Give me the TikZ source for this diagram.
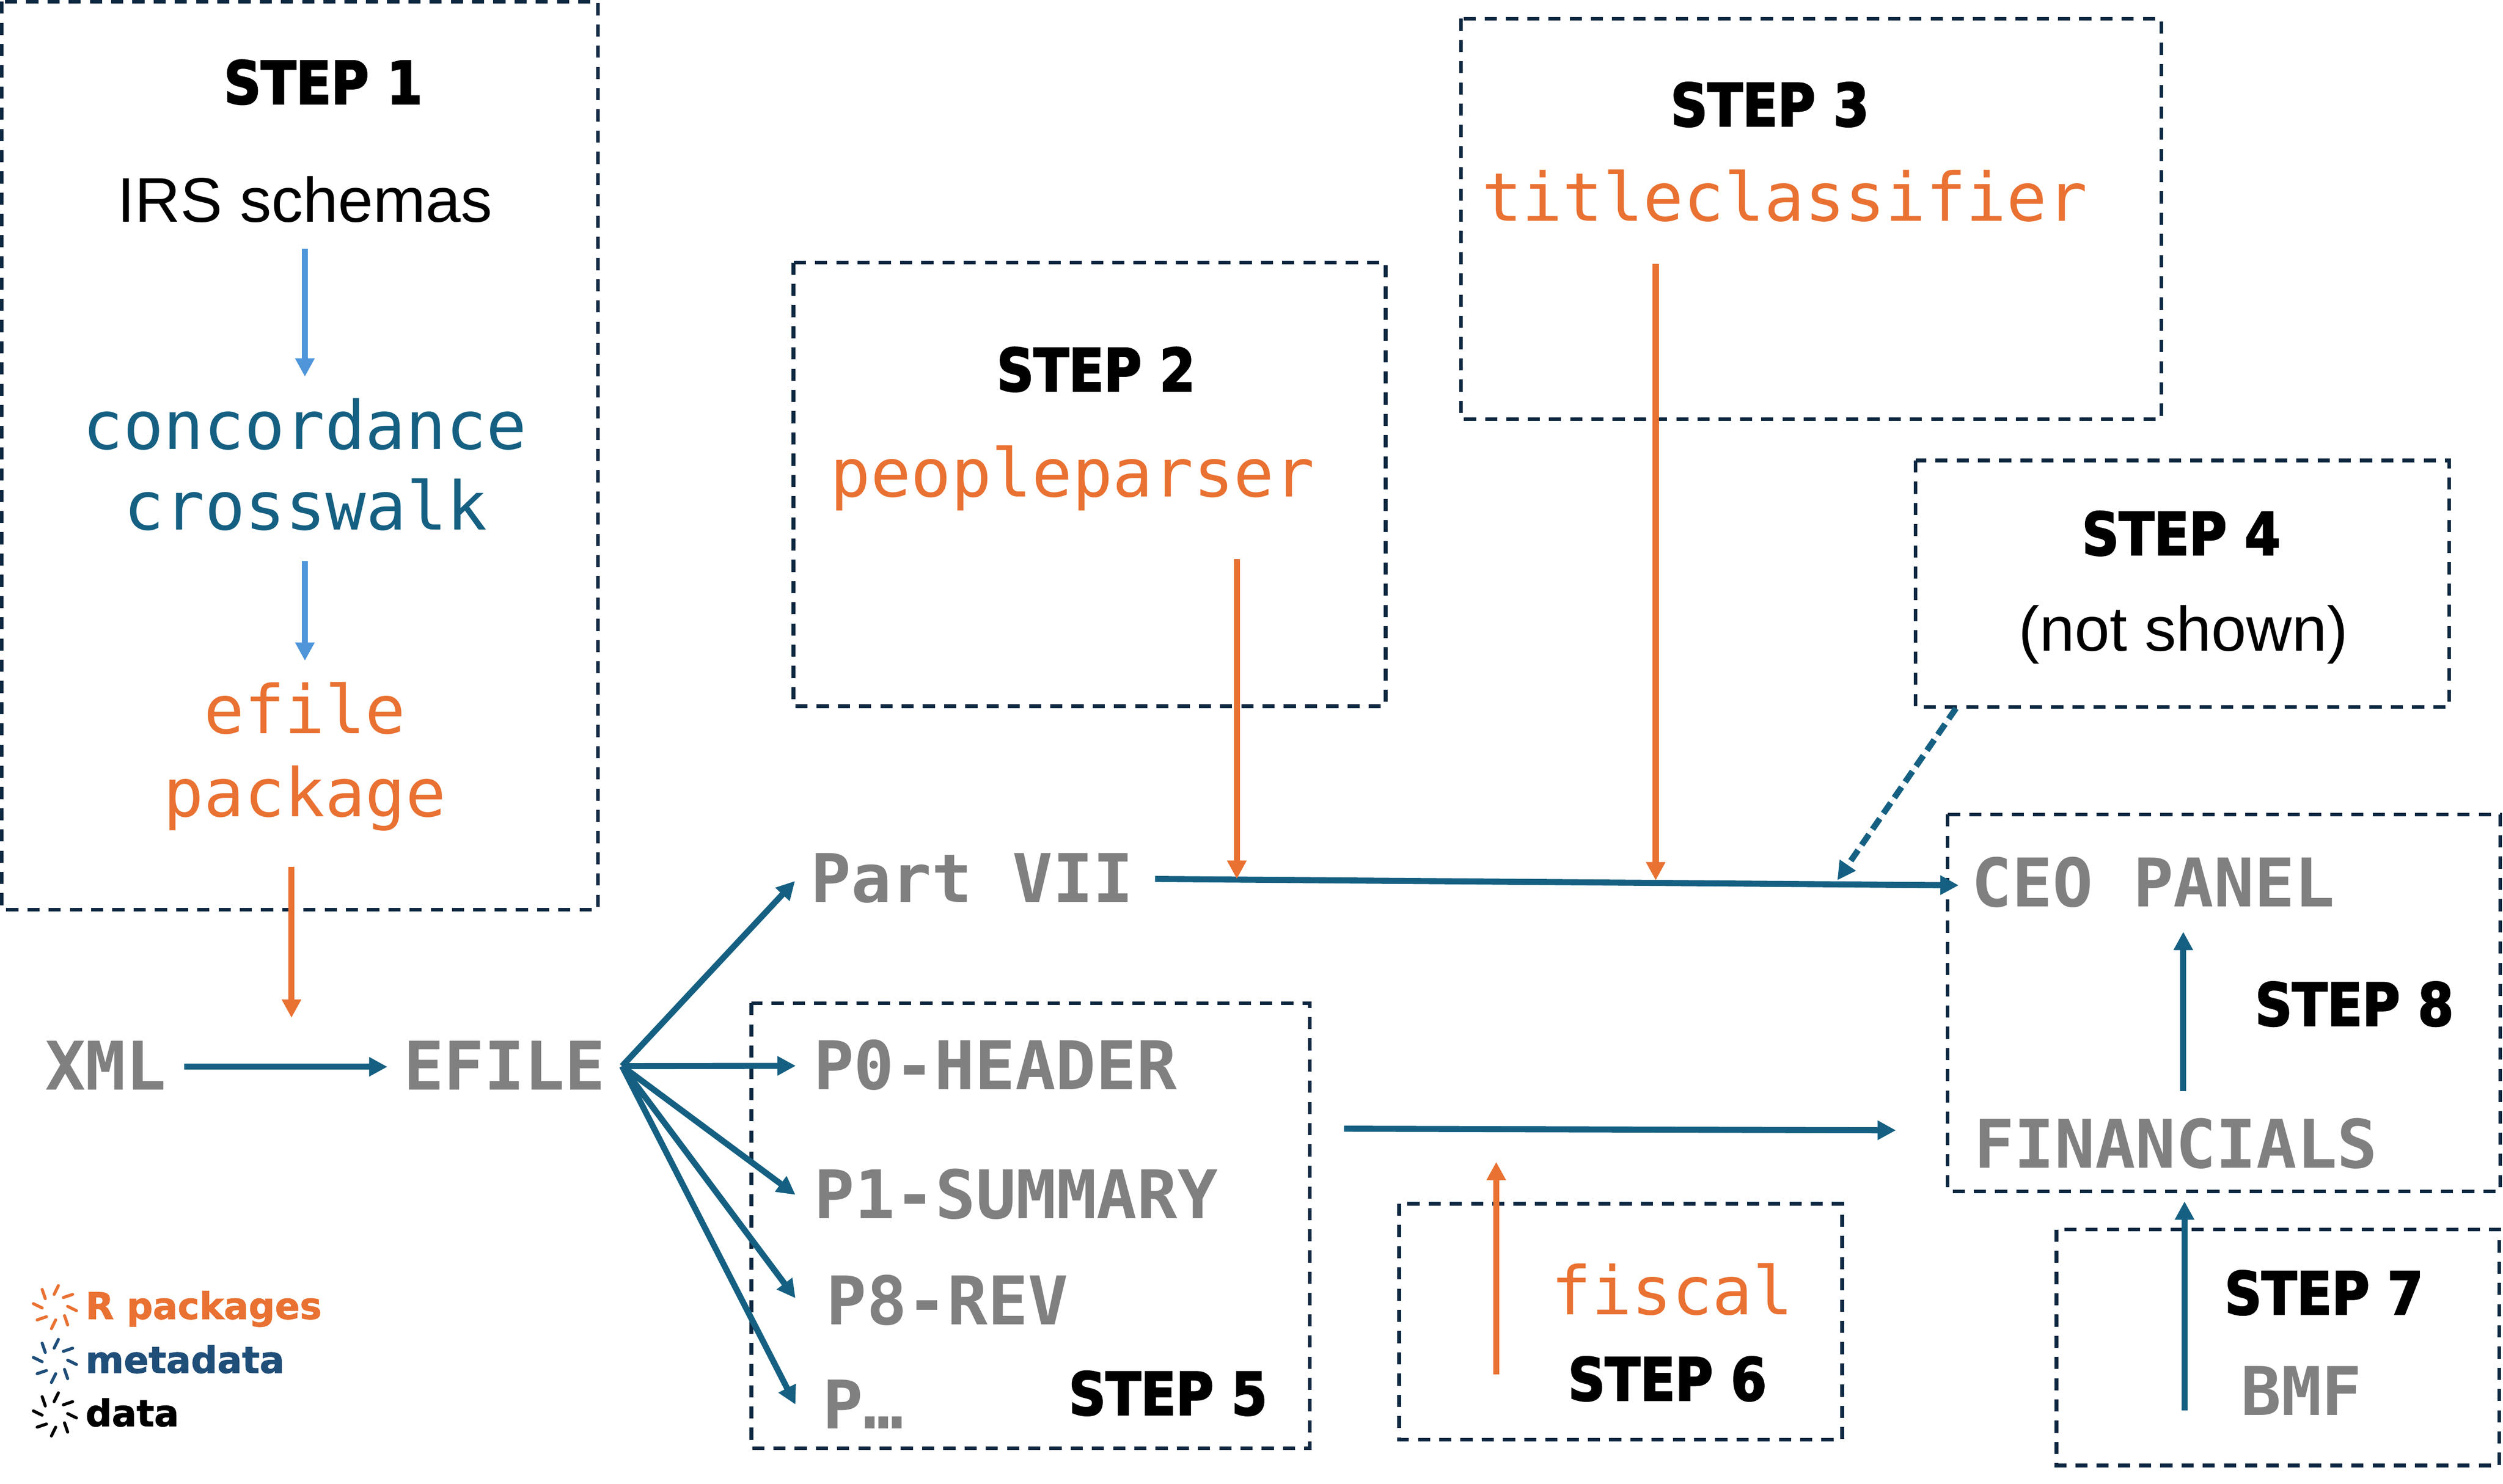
\documentclass[tikz,border=0pt]{standalone}
\usepackage{fontspec}
\setmainfont{Liberation Sans}
\newfontfamily\monofont{DejaVu Sans Mono}
\newfontfamily\stepfont{DejaVu Sans}[FakeStretch=0.87,FakeBold=2.5]
\newfontfamily\legfont{DejaVu Sans}[FakeBold=1.5]
\usetikzlibrary{arrows.meta}
\definecolor{orng}{HTML}{E97132}
\definecolor{teal1}{HTML}{156082}
\definecolor{lblue}{HTML}{4E95D9}
\definecolor{navy}{HTML}{0E2841}
\definecolor{gray1}{HTML}{808080}
\definecolor{metab}{HTML}{1F4E79}
\newcommand{\legspin}[3]{%
  \begin{scope}[shift={(#1,#2)}]
    \foreach \a in {0,45,...,315}{\draw[#3,line width=1.9pt,line cap=round,rotate=\a] (-0.5,-8) -- (2.2,-13.5);}
  \end{scope}}
\begin{document}
\begin{tikzpicture}[x=1pt,y=-1pt,
  every node/.style={inner sep=0pt,outer sep=0pt},
  stepbox/.style={draw=navy,line width=2.3pt,dash pattern=on 7.6pt off 5.7pt},
  steplabel/.style={anchor=base,font=\stepfont\bfseries\fontsize{37}{40}\selectfont,text=black},
  sanslabel/.style={anchor=base,font=\fontsize{39.5}{42}\selectfont,text=black},
  pkglabel/.style={anchor=base,font=\monofont\fontsize{42}{46}\selectfont,text=orng},
  metalabel/.style={anchor=base,font=\monofont\fontsize{42}{46}\selectfont,text=teal1},
  datalabel/.style={anchor=base,font=\monofont\bfseries\fontsize{42}{46}\selectfont,text=gray1},
  legtext/.style={anchor=base west,font=\legfont\bfseries\fontsize{23}{26}\selectfont},
  flow/.style={line width=3.8pt,-{Triangle[length=11.5pt,width=11.5pt]}},
  tealflow/.style={flow,draw=teal1,fill=teal1},
  orflow/.style={flow,draw=orng,fill=orng},
  lbflow/.style={flow,draw=lblue,fill=lblue}
]
\useasboundingbox (0,0) rectangle (1568,929.7);

% boxes
\draw[stepbox] (1,1) rectangle (374.5,570);
\draw[stepbox] (497,164.5) rectangle (868,442.5);
\draw[stepbox] (915.3,11.7) rectangle (1353.9,262.6);
\draw[stepbox] (1200,288.5) rectangle (1534.3,443);
\draw[stepbox] (470.7,628.5) rectangle (820.5,907.3);
\draw[stepbox] (876.5,754.2) rectangle (1154,902);
\draw[stepbox] (1288.3,770.4) rectangle (1565.7,918.2);
\draw[stepbox] (1220,510.3) rectangle (1566.3,746.5);

% texts
\node[steplabel] (s1) at (202.5,65) {STEP 1};
\node[sanslabel] (irs) at (191,139.2) {IRS schemas};
\node[metalabel] (conc) at (191,281.5) {concordance};
\node[metalabel] (cross) at (191.5,332) {crosswalk};
\node[pkglabel] (efp1) at (191,459.5) {efile};
\node[pkglabel] (efp2) at (191,511.5) {package};
\node[steplabel] (s2) at (686.6,245) {STEP 2};
\node[pkglabel] (pp) at (671.8,311.2) {peopleparser};
\node[steplabel] (s3) at (1108.7,79) {STEP 3};
\node[pkglabel] (tc) at (1118,138.3) {titleclassifier};
\node[steplabel] (s4) at (1366.4,347.7) {STEP 4};
\node[sanslabel] (ns) at (1367.7,407.8) {(not shown)};
\node[datalabel] (xml) at (66.2,683) {XML};
\node[datalabel] (efile) at (316,683) {EFILE};
\node[datalabel] (part) at (609,565.4) {Part VII};
\node[datalabel] (p0) at (623.4,682.5) {P0-HEADER};
\node[datalabel] (p1) at (636.5,763.5) {P1-SUMMARY};
\node[datalabel] (p8) at (593.5,830) {P8-REV};
\node[datalabel,anchor=base west] (pd) at (515.5,895.3) {P…};
\node[steplabel] (s5) at (731.7,886.5) {STEP 5};
\node[pkglabel] (fis) at (1047.5,823.8) {fiscal};
\node[steplabel] (s6) at (1044.5,877.4) {STEP 6};
\node[steplabel] (s7) at (1455.8,823.5) {STEP 7};
\node[datalabel] (bmf) at (1441.8,886.7) {BMF};
\node[datalabel] (ceo) at (1349,568) {CEO PANEL};
\node[datalabel] (fin) at (1363,731.7) {FINANCIALS};
\node[steplabel] (s8) at (1474.9,642.6) {STEP 8};

% connector end points
\coordinate (a1s) at (191,156);     \coordinate (a1e) at (191,236);
\coordinate (a2s) at (191,351.5);   \coordinate (a2e) at (191,414);
\coordinate (o1s) at (182.6,543);   \coordinate (o1e) at (182.6,637.7);
\coordinate (xs) at (115.5,668.4);  \coordinate (xe) at (242.7,668.4);
\coordinate (fan) at (389.7,668);
\coordinate (fpart) at (498,552);
\coordinate (fp0) at (498.5,667.8);
\coordinate (fp1) at (498.3,748.6);
\coordinate (fp8) at (498.3,813.4);
\coordinate (fpd) at (498.3,880);
\coordinate (ls) at (723.6,550.7);  \coordinate (le) at (1227,554.7);
\coordinate (o2s) at (774.8,350.3); \coordinate (o2e) at (774.8,550.7);
\coordinate (o3s) at (1037.2,165.3); \coordinate (o3e) at (1037.2,551.6);
\coordinate (ds) at (1225.3,443.8); \coordinate (de) at (1151,551.5);
\coordinate (fs) at (842,707.2);    \coordinate (fe) at (1187.7,708.2);
\coordinate (o4s) at (937.3,861);   \coordinate (o4e) at (937.3,728);
\coordinate (bs) at (1368.5,883.6); \coordinate (be) at (1368.5,752.7);
\coordinate (cs) at (1367.7,683.6); \coordinate (ce) at (1367.7,583.8);

% connectors
\draw[lbflow] (a1s) -- (a1e);
\draw[lbflow] (a2s) -- (a2e);
\draw[orflow] (o1s) -- (o1e);
\draw[tealflow] (xs) -- (xe);
\draw[tealflow] (fan) -- (fpart);
\draw[tealflow] (fan) -- (fp0);
\draw[tealflow] (fan) -- (fp1);
\draw[tealflow] (fan) -- (fp8);
\draw[tealflow] (fan) -- (fpd);
\draw[tealflow] (ls) -- (le);
\draw[orflow] (o2s) -- (o2e);
\draw[orflow] (o3s) -- (o3e);
\draw[tealflow,dash pattern=on 8pt off 4pt] (ds) -- (de);
\draw[tealflow] (fs) -- (fe);
\draw[orflow] (o4s) -- (o4e);
\draw[tealflow] (bs) -- (be);
\draw[tealflow] (cs) -- (ce);

% legend
\legspin{34.4}{819}{orng}
\legspin{34.4}{852.7}{metab}
\legspin{34.4}{886.2}{black}
\node[legtext,text=orng] (lg1) at (53.6,826.4) {R packages};
\node[legtext,text=metab] (lg2) at (53.6,860.2) {metadata};
\node[legtext,text=black] (lg3) at (53.6,893.6) {data};
\end{tikzpicture}
\end{document}
